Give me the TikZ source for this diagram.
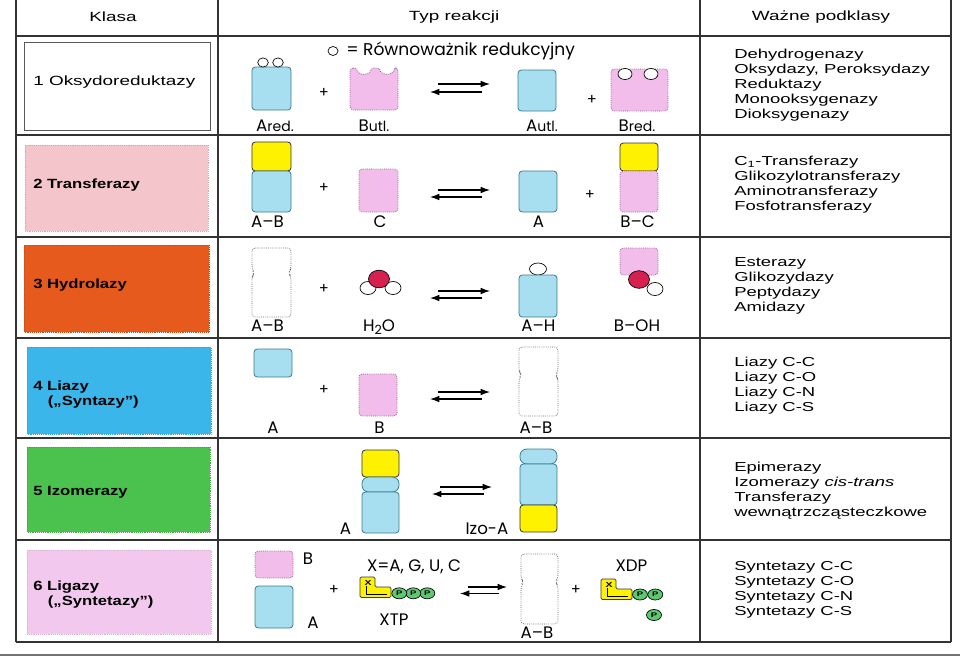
\documentclass[tikz,border=0pt]{standalone}
\usepackage{fontspec}
\setmainfont{Liberation Sans}[FakeStretch=1.42]
\newfontfamily\klasafont{Liberation Sans}[FakeStretch=1.25]
\newfontfamily\geofont{Poppins}
\usetikzlibrary{arrows.meta}

\definecolor{blueFill}{HTML}{A8DFF0}
\definecolor{blueLine}{HTML}{3C7C90}
\definecolor{pinkFill}{HTML}{F2BDEA}
\definecolor{pinkLine}{HTML}{8A5A80}
\definecolor{yellowFill}{HTML}{FFF200}
\definecolor{redFill}{HTML}{D6204F}
\definecolor{greenFill}{HTML}{5CC870}
\definecolor{klasaTwo}{HTML}{F4C6CC}
\definecolor{klasaThree}{HTML}{E65A1E}
\definecolor{klasaFour}{HTML}{3BB6EA}
\definecolor{klasaFive}{HTML}{4CC24E}
\definecolor{klasaSix}{HTML}{F2C8EE}

\tikzset{
  gridline/.style={line width=1.1pt, draw=black!80},
  klasabox/.style={line width=0.4pt, densely dotted},
  bluebox/.style={fill=blueFill, draw=blueLine, line width=0.6pt, rounded corners=2.5pt},
  pinkbox/.style={fill=pinkFill, draw=pinkLine, line width=0.6pt, densely dotted, rounded corners=2.5pt},
  whitebox/.style={fill=white, draw=black!60, line width=0.6pt, densely dotted, rounded corners=2.5pt},
  yellowbox/.style={fill=yellowFill, draw=black!80, line width=0.6pt, rounded corners=2.5pt},
  eqarrow/.style={-{Latex[length=7pt,width=5pt]}, line width=0.8pt},
  atom/.style={draw=black, line width=0.5pt, fill=white},
  redatom/.style={draw=black, line width=0.5pt, fill=redFill},
  pball/.style={draw=black, line width=0.5pt, fill=greenFill},
  headtext/.style={inner sep=0.75pt, font=\fontsize{10}{12}\selectfont},
  klasatext/.style={anchor=west, inner sep=0.75pt, align=left, font=\klasafont\bfseries\fontsize{10}{11.25}\selectfont},
  podtext/.style={anchor=west, inner sep=0.75pt, align=left, font=\fontsize{9.75}{11.25}\selectfont},
  molabel/.style={anchor=base, inner sep=0.75pt, font=\geofont\fontsize{12.5}{13}\selectfont},
  plus/.style={inner sep=0.75pt, font=\geofont\fontsize{11}{12}\selectfont},
}

% pinched white box: x1, y1, x2, y2, y of the pinch
\newcommand{\pinchbox}[5]{%
  \draw[whitebox] (#1,#2) -- (#3,#2) -- (#3,#5-4) -- (#3-2.5,#5) -- (#3,#5+4) -- (#3,#4)
    -- (#1,#4) -- (#1,#5+4) -- (#1+2.5,#5) -- (#1,#5-4) -- cycle;}
% equilibrium arrows: x left, x right, y upper, y lower
\newcommand{\equil}[4]{%
  \draw[eqarrow] (#1,#3) -- (#2,#3);
  \draw[eqarrow] (#2-8,#4) -- (#1-8,#4);}
% nucleotide with phosphates: x, y of the upper left corner
\newcommand{\nucleo}[2]{%
  \draw[yellowbox, rounded corners=1pt] (#1,#2) -- (#1+15,#2) -- (#1+15,#2+10) -- (#1+31,#2+10)
    -- (#1+31,#2+20.5) -- (#1,#2+20.5) -- cycle;
  \draw[line width=0.7pt] (#1+6.5,#2+8.5) -- (#1+6.5,#2+17) -- (#1+27,#2+17);
  \draw (#1+8,#2+5.5) node[inner sep=0pt, font=\bfseries\fontsize{5.5}{6}\selectfont] {X};}

\begin{document}
\begin{tikzpicture}[x=0.75pt,y=0.75pt,yscale=-1,xscale=1]
\useasboundingbox (0,0) rectangle (960,661);

%Shape: table grid
\draw[gridline] (16,0) -- (16,642) (218,0) -- (218,642) (700,0) -- (700,642) (951,0) -- (951,642);
\foreach \yrow in {36,135,237,338,438,540,642}
  \draw[gridline] (16,\yrow) -- (951,\yrow);
\draw[line width=0.8pt, draw=black!55] (0,655) -- (960,655);

% Text Node
\draw (113,17) node (klasa) [headtext] {Klasa};
\draw (454,17) node (typ) [headtext] {Typ reakcji};
\draw (821,17) node (podklasy) [headtext] {Ważne podklasy};

%Shape: class boxes
\draw[line width=0.6pt, draw=black!65, fill=white] (24,42) rectangle (210,130);
\draw[klasabox, draw=klasaTwo!85!black, fill=klasaTwo] (25,145) rectangle (208,231);
\draw[klasabox, draw=klasaThree!85!black, fill=klasaThree] (24,245) rectangle (209,332);
\draw[klasabox, draw=klasaFour!90!black, fill=klasaFour] (27,347) rectangle (211,434);
\draw[klasabox, draw=klasaFive!85!black, fill=klasaFive] (27,447) rectangle (210,532);
\draw[klasabox, draw=klasaSix!90!black, fill=klasaSix] (27,550) rectangle (211,634);

% Text Node
\draw (32,82) node (k1) [anchor=west, inner sep=0.75pt, font=\fontsize{10}{11.25}\selectfont] {1 Oksydoreduktazy};
\draw (32,185) node (k2) [klasatext] {2 Transferazy};
\draw (32,285) node (k3) [klasatext] {3 Hydrolazy};
\draw (32,394.5) node (k4) [klasatext] {4 Liazy\\\hspace*{1.1em}(„Syntazy”)};
\draw (32,492) node (k5) [klasatext] {5 Izomerazy};
\draw (32,595) node (k6) [klasatext] {6 Ligazy\\\hspace*{1.1em}(„Syntetazy”)};

% Text Node
\draw (733,85.5) node (p1) [podtext] {Dehydrogenazy\\Oksydazy, Peroksydazy\\Reduktazy\\Monooksygenazy\\Dioksygenazy};
\draw (733,184.5) node (p2) [podtext] {C\textsubscript{1}-Transferazy\\Glikozylotransferazy\\Aminotransferazy\\Fosfotransferazy};
\draw (733,286) node (p3) [podtext] {Esterazy\\Glikozydazy\\Peptydazy\\Amidazy};
\draw (733,385.5) node (p4) [podtext] {Liazy C-C\\Liazy C-O\\Liazy C-N\\Liazy C-S};
\draw (733,490.5) node (p5) [podtext] {Epimerazy\\Izomerazy \textit{cis-trans}\\Transferazy\\wewnątrzcząsteczkowe};
\draw (733,589.5) node (p6) [podtext] {Syntetazy C-C\\Syntetazy C-O\\Syntetazy C-N\\Syntetazy C-S};

%% row 1: oxidoreductases
\draw[atom] (333,51) circle[x radius=5, y radius=4.5];
\draw (345,51) node (legenda) [anchor=west, inner sep=0.75pt, font=\geofont\fontsize{12.8}{14}\selectfont] {= Równoważnik redukcyjny};
\draw[bluebox] (252,67) rectangle (291,110);
\draw[atom] (263,62.5) circle[x radius=5.3, y radius=4.6];
\draw[atom] (278,62.5) circle[x radius=5.3, y radius=4.6];
\draw (324,93) node (plus1a) [plus] {+};
\draw[pinkbox] (350,68) -- (357.5,68) arc[start angle=180, end angle=0, x radius=6.5, y radius=6.5]
  -- (380.5,68) arc[start angle=180, end angle=0, x radius=6.5, y radius=6.5] -- (398,68)
  -- (398,110) -- (350,110) -- cycle;
\equil{438}{490}{84}{92}
\draw[bluebox] (518,70) rectangle (556,111);
\draw (592,100) node (plus1b) [plus] {+};
\draw[pinkbox] (611,69) rectangle (668,111);
\draw[atom] (625,74) circle[x radius=7, y radius=5.5];
\draw[atom] (651,74) circle[x radius=7, y radius=5.5];
\draw (275,131.5) node (ared) [molabel] {A{\fontsize{10.5}{11}\selectfont red.}};
\draw (374,131.5) node (butl) [molabel] {B{\fontsize{10.5}{11}\selectfont utl.}};
\draw (542,131.5) node (autl) [molabel] {A{\fontsize{10.5}{11}\selectfont utl.}};
\draw (637,131.5) node (bred) [molabel] {B{\fontsize{10.5}{11}\selectfont red.}};

%% row 2: transferases
\draw[yellowbox] (252,142) rectangle (291,171);
\draw[bluebox] (252,171) rectangle (291,212);
\draw (324,188) node (plus2a) [plus] {+};
\draw[pinkbox] (359,169) rectangle (398,212);
\equil{438}{490}{190}{197}
\draw[bluebox] (519,171) rectangle (557,212);
\draw (590,195) node (plus2b) [plus] {+};
\draw[yellowbox] (620,143) rectangle (658,171);
\draw[pinkbox] (620,171) rectangle (658,212);
\draw (267.5,227.5) node (ab2) [molabel] {A–B};
\draw (380,227.5) node (c2) [molabel] {C};
\draw (538.5,227.5) node (a2) [molabel] {A};
\draw (637.5,227.5) node (bc2) [molabel] {B–C};

%% row 3: hydrolases
\pinchbox{252}{248}{291}{317}{273}
\draw (324,289) node (plus3) [plus] {+};
\draw[atom] (368,288) circle[x radius=8, y radius=6.5];
\draw[atom] (393,288) circle[x radius=8, y radius=6.5];
\draw[redatom] (379,279) circle[x radius=10.5, y radius=8.8];
\equil{438}{490}{291}{298}
\draw[atom] (538,269) circle[x radius=8.5, y radius=6];
\draw[bluebox] (519,275) rectangle (557,317);
\draw[pinkbox] (620,248) rectangle (658,275);
\draw[atom] (655,289) circle[x radius=8, y radius=6.5];
\draw[redatom] (639,279.5) circle[x radius=10.5, y radius=8.8];
\draw (267.5,331) node (ab3) [molabel] {A–B};
\draw (379,331) node (water) [molabel] {H\raisebox{-2.5pt}{\fontsize{9.5}{10}\selectfont 2}O};
\draw (538.5,331) node (ah3) [molabel] {A–H};
\draw (637,331) node (boh3) [molabel] {B–OH};

%% row 4: lyases
\draw[bluebox] (254,349) rectangle (292,377);
\draw (324,390) node (plus4) [plus] {+};
\draw[pinkbox] (359,374) rectangle (397,416);
\equil{438}{490}{392}{399}
\pinchbox{519}{347}{558}{416}{375}
\draw (273,433.5) node (a4) [molabel] {A};
\draw (379.5,433.5) node (b4) [molabel] {B};
\draw (536,433.5) node (ab4) [molabel] {A–B};

%% row 5: isomerases
\draw[yellowbox] (362,450) rectangle (399,477);
\draw[bluebox, rounded corners=5pt] (362,477) rectangle (399,492);
\draw[bluebox] (362,492) rectangle (399,533);
\equil{440}{492}{487}{494}
\draw[bluebox, rounded corners=5pt] (520,449) rectangle (557,464);
\draw[bluebox] (520,464) rectangle (557,505);
\draw[yellowbox] (520,505) rectangle (557,532);
\draw (345.5,534) node (a5) [molabel] {A};
\draw (487,534) node (izo5) [molabel] {Izo-A};

%% row 6: ligases
\draw[pinkbox] (255,551) rectangle (293,578);
\draw[bluebox] (255,586) rectangle (293,628);
\draw (308,564) node (b6) [molabel] {B};
\draw (313,628.5) node (a6) [molabel] {A};
\draw (334,590) node (plus6a) [plus] {+};
\draw (414,571) node (xtyp) [molabel] {X=A, G, U, C};
\nucleo{360}{577}
\foreach \xp in {427.3,413.3,399.3}
  \draw[pball] (\xp,593.3) circle[x radius=7.5, y radius=5.5] node[font=\bfseries\fontsize{5}{6}\selectfont] {P};
\draw (394,625) node (xtp) [molabel] {XTP};
\equil{468}{507}{587}{593.5}
\pinchbox{521}{554}{558}{624}{582}
\draw (537,638.5) node (ab6) [molabel] {A–B};
\draw (576,590) node (plus6b) [plus] {+};
\draw (631.5,571) node (xdp) [molabel] {XDP};
\nucleo{601}{579}
\foreach \xp in {655.3,640}
  \draw[pball] (\xp,594.5) circle[x radius=7.5, y radius=5.5] node[font=\bfseries\fontsize{5}{6}\selectfont] {P};
\draw[pball] (654,615) circle[x radius=7.5, y radius=5.5] node[font=\bfseries\fontsize{5}{6}\selectfont] {P};

\end{tikzpicture}
\end{document}
